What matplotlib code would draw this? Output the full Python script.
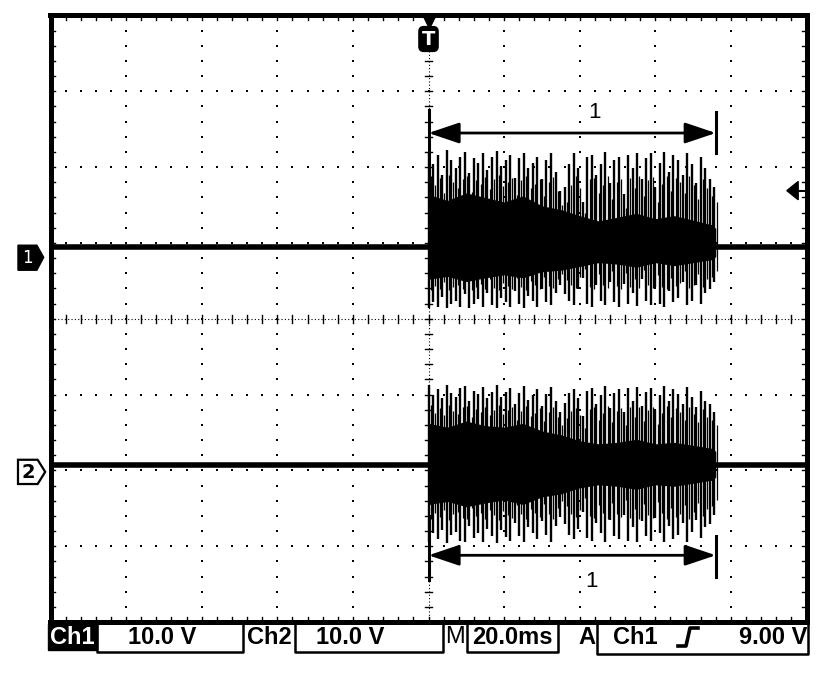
import numpy as np
import matplotlib
matplotlib.use("Agg")
import matplotlib.pyplot as plt
from matplotlib.patches import Polygon, Rectangle
from matplotlib.lines import Line2D

# -----------------------------
# scope settings / trace data (screen units = divisions)
# -----------------------------
ch1_level = 0.94          # ch1 trace position (div)
ch2_level = -1.93         # ch2 trace position (div)
burst_start = 0.0         # burst starts at trigger
burst_end = 3.80          # burst end (div)
spike_step = 0.06         # spacing of drawn burst strokes (div)

# burst stroke heights above / below the trace (div)
ch1_top = [1.25, 1.10, 1.22, 0.95, 1.28, 1.15, 1.05, 1.20, 1.26, 0.98, 1.18, 1.12, 1.24, 1.02, 1.20, 1.27,
           1.08, 1.15, 1.22, 0.92, 1.18, 1.25, 1.05, 1.12, 1.20, 0.90, 1.15, 1.24, 1.00, 0.75, 0.80, 1.10,
           1.25, 1.05, 0.60, 1.20, 1.22, 0.95, 1.10, 1.26, 0.85, 1.15, 1.20, 0.70, 1.22, 1.05, 1.25, 0.90,
           1.18, 1.24, 0.80, 1.12, 1.26, 1.00, 1.22, 1.15, 0.95, 1.25, 1.10, 0.85, 1.20, 1.05, 0.90, 0.80]
ch1_bot = [0.80, 0.72, 0.78, 0.65, 0.80, 0.75, 0.70, 0.78, 0.62, 0.80, 0.74, 0.68, 0.79, 0.60, 0.76, 0.80,
           0.66, 0.72, 0.78, 0.58, 0.75, 0.80, 0.64, 0.70, 0.78, 0.55, 0.72, 0.76, 0.60, 0.50, 0.62, 0.70,
           0.76, 0.55, 0.40, 0.74, 0.78, 0.50, 0.70, 0.76, 0.45, 0.72, 0.78, 0.48, 0.75, 0.60, 0.77, 0.42,
           0.70, 0.76, 0.52, 0.74, 0.78, 0.58, 0.72, 0.66, 0.45, 0.76, 0.70, 0.50, 0.74, 0.60, 0.55, 0.45]
ch2_top = [1.06, 0.92, 1.00, 0.88, 1.05, 0.95, 0.90, 1.02, 1.04, 0.85, 0.98, 0.94, 1.03, 0.88, 0.96, 1.05,
           0.90, 0.97, 1.02, 0.80, 0.95, 1.04, 0.86, 0.92, 1.00, 0.78, 0.94, 1.03, 0.85, 0.70, 0.82, 0.95,
           1.00, 0.88, 0.65, 0.98, 1.02, 0.80, 0.92, 1.04, 0.75, 0.95, 1.00, 0.70, 1.02, 0.85, 1.03, 0.78,
           0.96, 1.02, 0.72, 0.92, 1.04, 0.84, 1.00, 0.94, 0.80, 1.03, 0.90, 0.76, 0.98, 0.85, 0.80, 0.70]
ch2_bot = [1.02, 0.90, 0.98, 0.85, 1.03, 0.92, 0.88, 1.00, 1.02, 0.80, 0.96, 0.90, 1.01, 0.84, 0.94, 1.03,
           0.86, 0.95, 1.00, 0.76, 0.93, 1.02, 0.82, 0.90, 0.98, 0.74, 0.92, 1.01, 0.80, 0.68, 0.78, 0.92,
           0.98, 0.84, 0.62, 0.96, 1.00, 0.76, 0.90, 1.02, 0.72, 0.93, 0.98, 0.66, 1.00, 0.82, 1.01, 0.74,
           0.94, 1.00, 0.70, 0.90, 1.02, 0.80, 0.98, 0.92, 0.76, 1.01, 0.88, 0.72, 0.96, 0.82, 0.78, 0.66]

# dense core of the burst (div), sampled along the burst
core_x = [0.0, 0.25, 0.5, 0.75, 1.0, 1.25, 1.5, 1.75, 2.0, 2.25, 2.5, 2.75, 3.0, 3.25, 3.5, 3.75, 3.8]
ch1_core_top = [0.70, 0.62, 0.72, 0.66, 0.60, 0.68, 0.55, 0.50, 0.42, 0.35, 0.40, 0.45, 0.38, 0.42, 0.36, 0.30, 0.25]
ch1_core_bot = [0.42, 0.38, 0.45, 0.40, 0.36, 0.40, 0.32, 0.30, 0.25, 0.20, 0.22, 0.26, 0.20, 0.24, 0.20, 0.16, 0.12]
ch2_core_top = [0.55, 0.50, 0.58, 0.52, 0.50, 0.55, 0.45, 0.40, 0.32, 0.28, 0.30, 0.34, 0.28, 0.30, 0.26, 0.22, 0.18]
ch2_core_bot = [0.52, 0.48, 0.55, 0.50, 0.46, 0.52, 0.42, 0.38, 0.30, 0.26, 0.28, 0.32, 0.26, 0.28, 0.24, 0.20, 0.16]

# cursors
cursor1_y = 2.45
cursor2_y = -3.12
trig_level_y = 1.69

# readout
ch1_scale = "10.0 V"
ch2_scale = "10.0 V"
time_scale = "20.0ms"
trig_src = "Ch1"
trig_level = "9.00 V"

W, H = 832, 678
fig = plt.figure(figsize=(W / 100, H / 100), dpi=100)
fig.patch.set_facecolor("white")

# screen area in pixels
L, R, T, B = 50.5, 806.5, 15.5, 622.0
ax = fig.add_axes([L / W, 1 - B / H, (R - L) / W, (B - T) / H])
ax.set_xlim(-5, 5)
ax.set_ylim(-4, 4)
ax.set_xticks([])
ax.set_yticks([])
for s in ax.spines.values():
    s.set_linewidth(3.6)
    s.set_color("black")


def px(x, y):
    return x / W, 1 - y / H


# -----------------------------
# graticule
# -----------------------------
sub = np.arange(-5, 5.01, 0.2)
subv = np.arange(-4, 4.01, 0.2)
for gx in range(-4, 5):
    if gx == 0:
        continue
    ax.scatter(np.full_like(subv, gx), subv, s=3, marker="s", color="black", lw=0, zorder=1)
for gy in range(-3, 4):
    if gy == 0:
        continue
    ax.scatter(sub, np.full_like(sub, gy), s=3, marker="s", color="black", lw=0, zorder=1)

# centre cross with ticks
ax.axhline(0, color="black", lw=0.8, ls=(0, (1, 2)), zorder=1)
ax.axvline(0, color="black", lw=0.8, ls=(0, (1, 2)), zorder=1)
for v in sub:
    ax.plot([v, v], [-0.05, 0.05], color="black", lw=1.0, zorder=1)
for v in subv:
    ax.plot([-0.05, 0.05], [v, v], color="black", lw=1.0, zorder=1)

# edge ticks
for v in sub:
    ax.plot([v, v], [-4, -3.94], color="black", lw=1.0, zorder=1)
    ax.plot([v, v], [4, 3.94], color="black", lw=1.0, zorder=1)
for v in subv:
    ax.plot([-5, -4.94], [v, v], color="black", lw=1.0, zorder=1)
    ax.plot([5, 4.94], [v, v], color="black", lw=1.0, zorder=1)

# -----------------------------
# traces
# -----------------------------
sx = burst_start + spike_step * np.arange(len(ch1_top))


def draw_channel(level, tops, bots, ctop, cbot):
    ax.plot([-5, burst_start], [level, level], color="black", lw=4.0, solid_capstyle="butt", zorder=3)
    ax.plot([burst_end, 5], [level, level], color="black", lw=4.0, solid_capstyle="butt", zorder=3)
    ax.fill_between(core_x, [level + c for c in ctop], [level - c for c in cbot],
                    color="black", lw=0, zorder=3)
    ax.vlines(sx, [level - b for b in bots], [level + t for t in tops],
              color="black", lw=1.7, zorder=3)
    ax.vlines(sx + spike_step / 2, [level - 0.7 * b for b in bots], [level + 0.75 * t for t in tops],
              color="black", lw=0.9, zorder=3)


draw_channel(ch1_level, ch1_top, ch1_bot, ch1_core_top, ch1_core_bot)
draw_channel(ch2_level, ch2_top, ch2_bot, ch2_core_top, ch2_core_bot)

# -----------------------------
# cursors
# -----------------------------
arrow = dict(arrowstyle="<|-|>,head_length=0.95,head_width=0.32", color="black", lw=2,
             mutation_scale=20, shrinkA=0, shrinkB=0)
ax.annotate("", xy=(burst_start, cursor1_y), xytext=(burst_end, cursor1_y), arrowprops=arrow, zorder=5)
ax.annotate("", xy=(burst_start, cursor2_y), xytext=(burst_end, cursor2_y), arrowprops=arrow, zorder=5)
ax.plot([burst_end, burst_end], [2.18, 2.73], color="black", lw=2.2, zorder=5)
ax.plot([burst_start, burst_start], [1.3, 2.75], color="black", lw=2.2, zorder=5)
ax.plot([burst_end, burst_end], [-2.86, -3.41], color="black", lw=2.2, zorder=5)
ax.plot([burst_start, burst_start], [-2.6, -3.45], color="black", lw=2.2, zorder=5)
ax.text(2.2, 2.72, "1", fontsize=16, family="Liberation Sans", ha="center", va="center", zorder=5)
ax.text(2.16, -3.46, "1", fontsize=16, family="Liberation Sans", ha="center", va="center", zorder=5)

# trigger position marker "T"
ax.plot([0], [3.92], marker="v", ms=9, color="black", clip_on=False, zorder=6)
ax.text(0, 3.69, "T", color="white", fontsize=14, weight="bold", family="DejaVu Sans",
        ha="center", va="center", zorder=7,
        bbox=dict(boxstyle="round,pad=0.15,rounding_size=0.25", fc="black", ec="black"))

# trigger level arrow at the right edge
ax.add_patch(Polygon([[4.89, 1.81], [4.74, trig_level_y], [4.89, 1.57]], closed=True,
                     fc="black", ec="black", zorder=6))
ax.plot([4.85, 4.98], [trig_level_y, trig_level_y], color="black", lw=1.5, zorder=6)

# channel ground markers (left of the screen)
ax.add_patch(Polygon([[-5.43, 0.97], [-5.18, 0.97], [-5.09, 0.81], [-5.18, 0.64], [-5.43, 0.64]],
                     closed=True, fc="black", ec="black", lw=1, clip_on=False, zorder=6))
ax.text(-5.31, 0.80, "1", color="white", fontsize=12, family="DejaVu Sans", ha="center", va="center",
        clip_on=False, zorder=7)
ax.add_patch(Polygon([[-5.43, -1.86], [-5.17, -1.86], [-5.07, -2.02], [-5.17, -2.18], [-5.43, -2.18]],
                     closed=True, fc="white", ec="black", lw=1.6, clip_on=False, zorder=6))
ax.text(-5.30, -2.03, "2", color="black", fontsize=14, weight="bold", family="DejaVu Sans",
        ha="center", va="center", clip_on=False, zorder=7)

# -----------------------------
# readout bar
# -----------------------------
fnt = dict(family="Liberation Sans", weight="bold", fontsize=17, va="center")
ty = 637

fig.add_artist(Rectangle(px(48, 650), 49 / W, 26 / H, transform=fig.transFigure, fc="black", ec="black"))
fig.text(*px(72, ty), "Ch1", color="white", ha="center", **fnt)


def value_box(x0, x1, y1):
    xs = [x0, x0, x1, x1]
    ys = [622, y1, y1, 622]
    fx = [x / W for x in xs]
    fy = [1 - y / H for y in ys]
    fig.add_artist(Line2D(fx, fy, transform=fig.transFigure, color="black", lw=1.8))


value_box(97, 243, 652)
fig.text(*px(162, ty), ch1_scale, ha="center", **fnt)
fig.text(*px(269, ty), "Ch2", ha="center", **fnt)
value_box(295, 443, 652)
fig.text(*px(350, ty), ch2_scale, ha="center", **fnt)
fig.text(*px(455, ty), "M", ha="center", family="Liberation Sans", fontsize=17, va="center")
value_box(467, 558, 652)
fig.text(*px(512, ty), time_scale, ha="center", **fnt)
fig.text(*px(587, ty), "A", ha="center", **fnt)
value_box(597, 808, 654)
fig.text(*px(635, ty), trig_src, ha="center", **fnt)
# rising slope symbol
sl = [(678, 646), (686, 646), (690, 628), (698, 628)]
fig.add_artist(Line2D([p[0] / W for p in sl], [1 - p[1] / H for p in sl], transform=fig.transFigure,
                      color="black", lw=2.6))
fig.text(*px(807, ty), trig_level, ha="right", **fnt)

fig.savefig("out.png", dpi=100, facecolor="white")
